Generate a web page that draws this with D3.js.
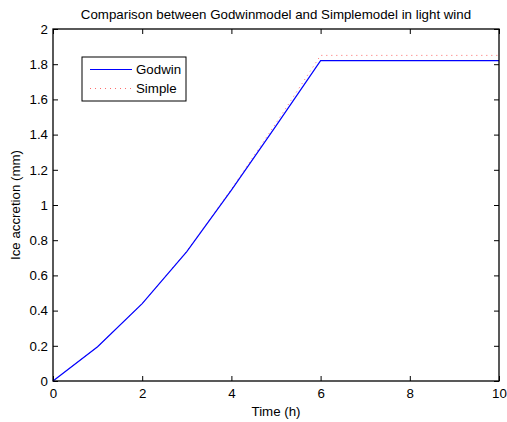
<!DOCTYPE html>
<html>
<head>
<meta charset="utf-8">
<script src="https://cdn.jsdelivr.net/npm/d3@7"></script>
<style>
  body { margin: 0; background: #fff; }
  svg text { font-family: "Liberation Sans", Arial, sans-serif; }
</style>
</head>
<body>
<div id="chart-area"></div>
<script>
// Data
let hours = [0, 1, 2, 3, 4, 5, 6, 7, 8, 9, 10];
let godwin = [0, 0.195, 0.44, 0.735, 1.085, 1.45, 1.82, 1.82, 1.82, 1.82, 1.82];
let simple = [0, 0.195, 0.44, 0.738, 1.09, 1.465, 1.85, 1.85, 1.85, 1.85, 1.85];
let xTicks = [0, 2, 4, 6, 8, 10];
let yTicks = [0, 0.2, 0.4, 0.6, 0.8, 1, 1.2, 1.4, 1.6, 1.8, 2];

// SVG size
let width_raw = 507,
	height_raw = 422;

let margin = {top: 29, right: 8, bottom: 41, left: 53};

let width = width_raw - margin.left - margin.right,
	height = height_raw - margin.top - margin.bottom;

let fontSize = 13.3;

let svg = d3.select("#chart-area")
	.append("svg")
	.attr("width", width_raw)
	.attr("height", height_raw)
	.append("g")
	.attr("transform", "translate(" + margin.left + "," + margin.top + ")");

let x = d3.scaleLinear().domain([0, 10]).range([0, width]);
let y = d3.scaleLinear().domain([0, 2]).range([height, 0]);

let tickLen = 5;

// Axes with inward ticks, on all four sides (matlab box)
let xAxis = d3.axisBottom(x).tickValues(xTicks).tickSize(-tickLen).tickPadding(8).tickFormat(d3.format("d"));
let yAxis = d3.axisLeft(y).tickValues(yTicks).tickSize(-tickLen).tickPadding(5).tickFormat(d => d === 0 || d === 1 || d === 2 ? d3.format("d")(d) : d3.format(".1f")(d));
let xTop = d3.axisTop(x).tickValues(xTicks).tickSize(-tickLen).tickFormat("");
let yRight = d3.axisRight(y).tickValues(yTicks).tickSize(-tickLen).tickFormat("");

function styleAxis(g) {
	g.select(".domain").remove();
	g.selectAll("line").attr("stroke", "#000").attr("stroke-width", 1);
	g.selectAll("text").attr("font-size", fontSize).attr("fill", "#000");
}

svg.append("g").attr("transform", "translate(0," + height + ")").call(xAxis).call(styleAxis);
svg.append("g").call(yAxis).call(styleAxis);
svg.append("g").call(xTop).call(styleAxis);
svg.append("g").attr("transform", "translate(" + width + ",0)").call(yRight).call(styleAxis);

// Lines
let line = d3.line()
	.x((d, i) => x(hours[i]))
	.y(d => y(d));

svg.append("path")
	.datum(simple)
	.attr("fill", "none")
	.attr("stroke", "#ff6b6b")
	.attr("stroke-width", 1)
	.attr("stroke-dasharray", "1,4")
	.attr("d", line);

svg.append("path")
	.datum(godwin)
	.attr("fill", "none")
	.attr("stroke", "#0000ff")
	.attr("stroke-width", 1.2)
	.attr("d", line);

// Box
svg.append("rect")
	.attr("width", width)
	.attr("height", height)
	.attr("fill", "none")
	.attr("stroke", "#000")
	.attr("stroke-width", 1.3);

// Title and labels
svg.append("text")
	.attr("x", width / 2)
	.attr("y", -10)
	.attr("text-anchor", "middle")
	.attr("font-size", fontSize)
	.text("Comparison between Godwinmodel and Simplemodel in light wind");

svg.append("text")
	.attr("x", width / 2)
	.attr("y", height + 35)
	.attr("text-anchor", "middle")
	.attr("font-size", fontSize)
	.text("Time (h)");

svg.append("text")
	.attr("transform", "translate(" + (-33) + "," + (height / 2) + ")rotate(-90)")
	.attr("text-anchor", "middle")
	.attr("font-size", fontSize)
	.text("Ice accretion (mm)");

// Legend
let legend = svg.append("g").attr("transform", "translate(" + (82 - margin.left) + "," + (57 - margin.top) + ")");
legend.append("rect")
	.attr("width", 104)
	.attr("height", 44)
	.attr("fill", "#fff")
	.attr("stroke", "#000")
	.attr("stroke-width", 1);

let legendItems = [
	{name: "Godwin", color: "#0000ff", dash: "none", w: 1.2},
	{name: "Simple", color: "#ff6b6b", dash: "1,4", w: 1}
];
legendItems.forEach((item, i) => {
	let ly = 12.5 + i * 19;
	legend.append("line")
		.attr("x1", 8).attr("x2", 50)
		.attr("y1", ly).attr("y2", ly)
		.attr("stroke", item.color)
		.attr("stroke-width", item.w)
		.attr("stroke-dasharray", item.dash);
	legend.append("text")
		.attr("x", 54)
		.attr("y", ly + 4.5)
		.attr("font-size", fontSize)
		.text(item.name);
});
</script>
</body>
</html>
